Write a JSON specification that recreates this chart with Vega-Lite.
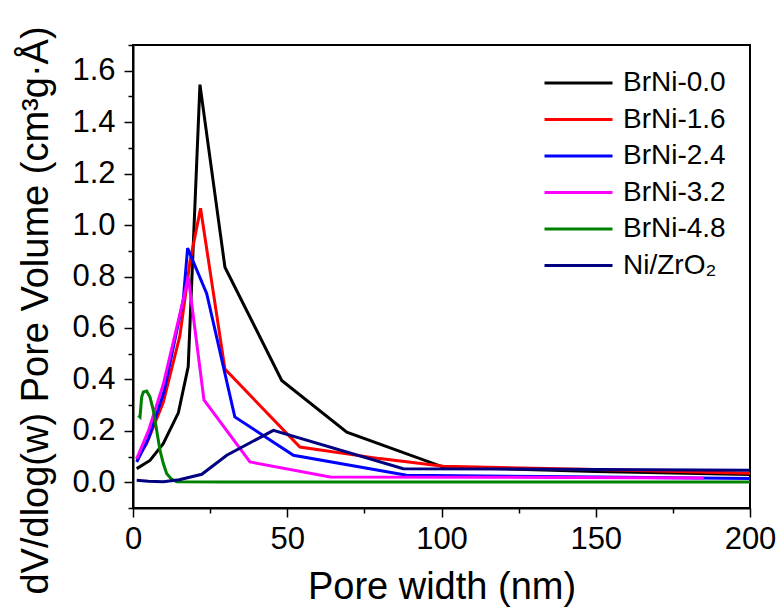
{
  "$schema": "https://vega.github.io/schema/vega-lite/v6.json",
  "width": 617,
  "height": 463,
  "autosize": {"type": "none"},
  "padding": {"left": 133, "top": 45, "right": 34, "bottom": 104},
  "background": "white",
  "config": {
    "font": "Liberation Sans",
    "view": {"stroke": "black", "strokeWidth": 2},
    "axis": {
      "grid": false,
      "domainColor": "black",
      "domainWidth": 2,
      "tickColor": "black",
      "tickWidth": 1.5,
      "labelFont": "Liberation Sans",
      "labelFontSize": 31,
      "labelColor": "black",
      "labelOverlap": false,
      "labelFlush": false,
      "titleFont": "Liberation Sans",
      "titleFontSize": 38,
      "titleFontWeight": "normal",
      "titleColor": "black"
    }
  },
  "data": {
    "values": [
      {"s": "BrNi-0.0", "w": 1.2, "v": 0.053},
      {"s": "BrNi-0.0", "w": 5.5, "v": 0.085},
      {"s": "BrNi-0.0", "w": 9.8, "v": 0.15},
      {"s": "BrNi-0.0", "w": 14.7, "v": 0.27},
      {"s": "BrNi-0.0", "w": 17.9, "v": 0.45},
      {"s": "BrNi-0.0", "w": 21.7, "v": 1.546},
      {"s": "BrNi-0.0", "w": 29.8, "v": 0.836},
      {"s": "BrNi-0.0", "w": 48.2, "v": 0.396},
      {"s": "BrNi-0.0", "w": 69.3, "v": 0.195},
      {"s": "BrNi-0.0", "w": 100.6, "v": 0.059},
      {"s": "BrNi-0.0", "w": 150, "v": 0.042},
      {"s": "BrNi-0.0", "w": 200, "v": 0.03},

      {"s": "BrNi-1.6", "w": 1.2, "v": 0.09},
      {"s": "BrNi-1.6", "w": 4.4, "v": 0.15},
      {"s": "BrNi-1.6", "w": 9.8, "v": 0.31},
      {"s": "BrNi-1.6", "w": 15.2, "v": 0.57},
      {"s": "BrNi-1.6", "w": 18.5, "v": 0.86},
      {"s": "BrNi-1.6", "w": 21.9, "v": 1.065},
      {"s": "BrNi-1.6", "w": 29.8, "v": 0.44},
      {"s": "BrNi-1.6", "w": 54.1, "v": 0.137},
      {"s": "BrNi-1.6", "w": 80, "v": 0.092},
      {"s": "BrNi-1.6", "w": 100.6, "v": 0.062},
      {"s": "BrNi-1.6", "w": 150, "v": 0.05},
      {"s": "BrNi-1.6", "w": 200, "v": 0.035},

      {"s": "BrNi-2.4", "w": 1.2, "v": 0.079},
      {"s": "BrNi-2.4", "w": 5, "v": 0.17},
      {"s": "BrNi-2.4", "w": 10, "v": 0.35},
      {"s": "BrNi-2.4", "w": 16.3, "v": 0.71},
      {"s": "BrNi-2.4", "w": 17.7, "v": 0.91},
      {"s": "BrNi-2.4", "w": 23.9, "v": 0.733},
      {"s": "BrNi-2.4", "w": 33, "v": 0.254},
      {"s": "BrNi-2.4", "w": 52, "v": 0.105},
      {"s": "BrNi-2.4", "w": 88.7, "v": 0.027},
      {"s": "BrNi-2.4", "w": 150, "v": 0.021},
      {"s": "BrNi-2.4", "w": 200, "v": 0.015},

      {"s": "BrNi-3.2", "w": 1.2, "v": 0.092},
      {"s": "BrNi-3.2", "w": 5, "v": 0.2},
      {"s": "BrNi-3.2", "w": 9.8, "v": 0.38},
      {"s": "BrNi-3.2", "w": 16.3, "v": 0.71},
      {"s": "BrNi-3.2", "w": 17.9, "v": 0.8},
      {"s": "BrNi-3.2", "w": 23, "v": 0.32},
      {"s": "BrNi-3.2", "w": 37.9, "v": 0.079},
      {"s": "BrNi-3.2", "w": 63.9, "v": 0.021},
      {"s": "BrNi-3.2", "w": 120, "v": 0.02},
      {"s": "BrNi-3.2", "w": 185, "v": 0.017},

      {"s": "BrNi-4.8", "w": 1.73, "v": 0.26},
      {"s": "BrNi-4.8", "w": 2.27, "v": 0.254},
      {"s": "BrNi-4.8", "w": 2.81, "v": 0.331},
      {"s": "BrNi-4.8", "w": 3.35, "v": 0.351},
      {"s": "BrNi-4.8", "w": 4.43, "v": 0.355},
      {"s": "BrNi-4.8", "w": 5.51, "v": 0.331},
      {"s": "BrNi-4.8", "w": 6.59, "v": 0.28},
      {"s": "BrNi-4.8", "w": 7.67, "v": 0.202},
      {"s": "BrNi-4.8", "w": 8.75, "v": 0.124},
      {"s": "BrNi-4.8", "w": 9.83, "v": 0.073},
      {"s": "BrNi-4.8", "w": 10.9, "v": 0.034},
      {"s": "BrNi-4.8", "w": 12.5, "v": 0.012},
      {"s": "BrNi-4.8", "w": 14.2, "v": 0.002},
      {"s": "BrNi-4.8", "w": 30, "v": 0.001},
      {"s": "BrNi-4.8", "w": 100, "v": 0.001},
      {"s": "BrNi-4.8", "w": 200, "v": 0.001},

      {"s": "Ni/ZrO₂", "w": 1.2, "v": 0.008},
      {"s": "Ni/ZrO₂", "w": 5, "v": 0.004},
      {"s": "Ni/ZrO₂", "w": 9.8, "v": 0.002},
      {"s": "Ni/ZrO₂", "w": 15, "v": 0.01},
      {"s": "Ni/ZrO₂", "w": 22.3, "v": 0.031},
      {"s": "Ni/ZrO₂", "w": 30.4, "v": 0.105},
      {"s": "Ni/ZrO₂", "w": 45.5, "v": 0.202},
      {"s": "Ni/ZrO₂", "w": 87.6, "v": 0.053},
      {"s": "Ni/ZrO₂", "w": 150, "v": 0.05},
      {"s": "Ni/ZrO₂", "w": 200, "v": 0.047}
    ]
  },
  "mark": {"type": "line", "strokeWidth": 3, "clip": true},
  "encoding": {
    "x": {
      "field": "w",
      "type": "quantitative",
      "scale": {"domain": [0, 200], "nice": false, "zero": false},
      "axis": {
        "title": "Pore width (nm)",
        "values": [0, 25, 50, 75, 100, 125, 150, 175, 200],
        "labelExpr": "datum.value % 50 == 0 ? format(datum.value, 'd') : ''",
        "tickSize": {"condition": {"test": "datum.value % 50 != 0", "value": 5}, "value": 9},
        "labelPadding": 7,
        "titlePadding": 14
      }
    },
    "y": {
      "field": "v",
      "type": "quantitative",
      "scale": {"domain": [-0.1, 1.7], "nice": false, "zero": false},
      "axis": {
        "title": "dV/dlog(w) Pore Volume (cm³g·Å)",
        "values": [-0.1, 0, 0.1, 0.2, 0.3, 0.4, 0.5, 0.6, 0.7, 0.8, 0.9, 1.0, 1.1, 1.2, 1.3, 1.4, 1.5, 1.6, 1.7],
        "labelExpr": "abs(round(datum.value * 10)) % 2 == 1 ? '' : format(datum.value, '.1f')",
        "tickSize": {"condition": {"test": "abs(round(datum.value * 10)) % 2 == 1", "value": 5}, "value": 9},
        "labelPadding": 9,
        "titleX": -78,
        "titleY": 265
      }
    },
    "color": {
      "field": "s",
      "type": "nominal",
      "scale": {
        "domain": ["BrNi-0.0", "BrNi-1.6", "BrNi-2.4", "BrNi-3.2", "BrNi-4.8", "Ni/ZrO₂"],
        "range": ["#000000", "#ff0000", "#0000ff", "#ff00ff", "#008000", "#000080"]
      },
      "legend": {
        "title": null,
        "orient": "none",
        "legendX": 410,
        "legendY": 24,
        "padding": 0,
        "symbolType": "stroke",
        "symbolSize": 4624,
        "symbolStrokeWidth": 3,
        "labelFont": "Liberation Sans",
        "labelFontSize": 28,
        "labelColor": "black",
        "labelOffset": 9,
        "labelLimit": 300,
        "clipHeight": 28,
        "rowPadding": 8.5
      }
    }
  }
}
